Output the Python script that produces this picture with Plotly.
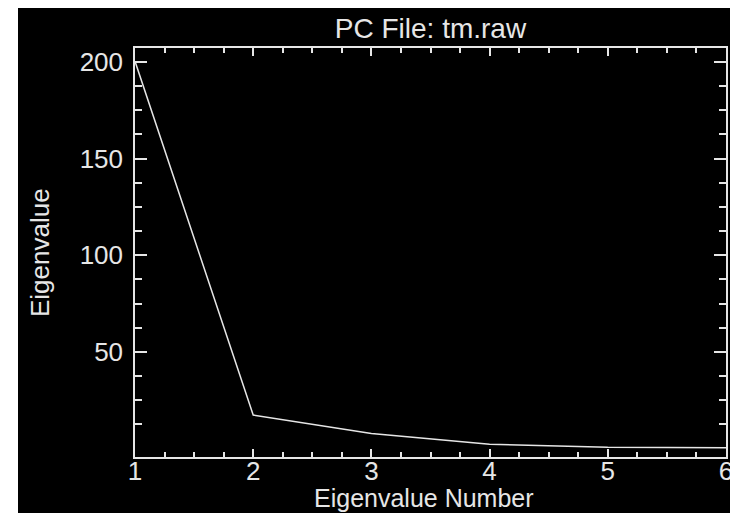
import plotly.graph_objects as go

# ---- data ----
component = [1, 2, 3, 4, 5, 6]
eigenvalue = [200.3, 17.3, 7.8, 2.2, 0.6, 0.4]

x_major_ticks = [1, 2, 3, 4, 5, 6]
x_minor_ticks = [1 + 0.25 * i for i in range(21) if i % 4 != 0]
y_major_ticks = [50, 100, 150, 200]
y_minor_ticks = [12.5, 25, 37.5, 62.5, 75, 87.5, 112.5, 125, 137.5, 162.5, 175, 187.5]

title_text = "PC File: tm.raw"
x_title = "Eigenvalue Number"
y_title = "Eigenvalue"

# ---- layout constants (page body has an 8px margin) ----
W, H = 730, 505
ML, MR, MT, MB = 127, 12, 40, 56
FG = "#e6e6e6"
FONT = "Liberation Sans"

pw = W - ML - MR
ph = H - MT - MB

def px_to_paper_x(px):
    return (px - ML) / pw

def px_to_paper_y(py):
    return (H - MB - py) / ph

fig = go.Figure()
fig.add_trace(go.Scatter(x=component, y=eigenvalue, mode="lines",
                         line=dict(color=FG, width=1.5), hoverinfo="skip"))

# black canvas with a thin white strip at left (as in reference)
fig.add_shape(type="rect", xref="paper", yref="paper", layer="below",
              x0=px_to_paper_x(10), x1=px_to_paper_x(W + 10),
              y0=px_to_paper_y(H + 10), y1=px_to_paper_y(-10),
              fillcolor="black", line=dict(width=0))

common_axis = dict(
    showgrid=False, zeroline=False, showline=True, linecolor=FG, linewidth=1.5,
    mirror="allticks", ticks="inside", tickcolor=FG, tickwidth=1.5,
    tickfont=dict(family=FONT, size=26, color=FG), automargin=False,
)

fig.update_xaxes(
    range=[1, 6], tickmode="array", tickvals=x_major_ticks,
    ticktext=[str(v) for v in x_major_ticks], ticklen=8,
    minor=dict(tickmode="array", tickvals=x_minor_ticks, ticklen=5,
               ticks="inside", tickcolor=FG, tickwidth=1.5),
    ticklabelstandoff=-10,
    **common_axis,
)
fig.update_yaxes(
    range=[-4.4, 207.2], tickmode="array", tickvals=y_major_ticks,
    ticktext=[str(v) for v in y_major_ticks], ticklen=12,
    minor=dict(tickmode="array", tickvals=y_minor_ticks, ticklen=7,
               ticks="inside", tickcolor=FG, tickwidth=1.5),
    ticklabelstandoff=5,
    **common_axis,
)

fig.add_annotation(text=x_title, xref="paper", yref="paper",
                   x=px_to_paper_x(416), y=px_to_paper_y(490),
                   xanchor="center", yanchor="middle", showarrow=False,
                   font=dict(family=FONT, size=25, color=FG))
fig.add_annotation(text=y_title, xref="paper", yref="paper",
                   x=px_to_paper_x(32), y=px_to_paper_y(245), textangle=-90,
                   xanchor="center", yanchor="middle", showarrow=False,
                   font=dict(family=FONT, size=26, color=FG))

fig.update_layout(
    template="none",
    width=W, height=H,
    margin=dict(l=ML, r=MR, t=MT, b=MB, pad=0, autoexpand=False),
    paper_bgcolor="white", plot_bgcolor="black",
    showlegend=False,
    title=dict(text=title_text, font=dict(family=FONT, size=28, color=FG),
               x=(ML + pw / 2) / W, xanchor="center", y=1 - 20 / H, yanchor="middle"),
)

fig.write_html("out.html")
